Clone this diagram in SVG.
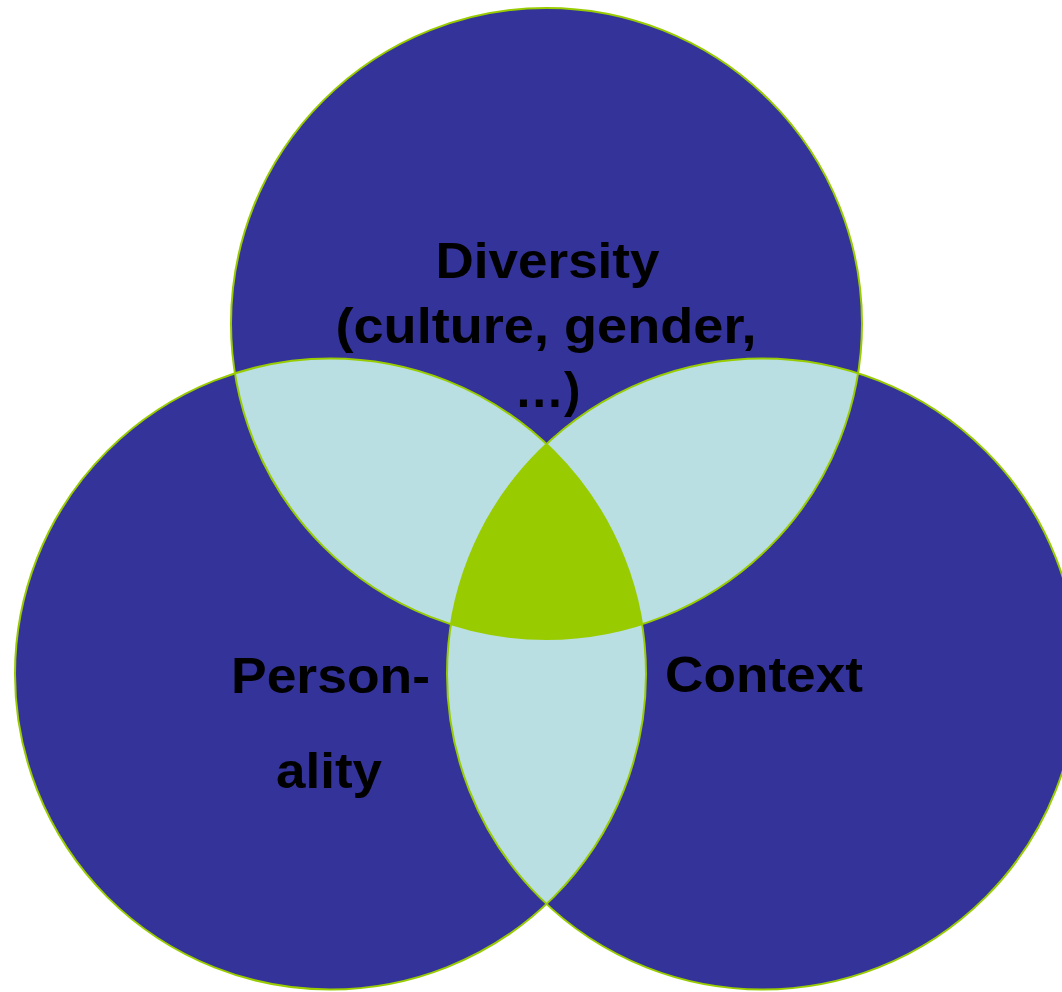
<svg xmlns="http://www.w3.org/2000/svg" width="1062" height="992" viewBox="0 0 1062 992">
  <style>
    .base { fill: #333399; stroke: none; }
    .pair { fill: #B9DFE3; stroke: none; }
    .core { fill: #99CC00; stroke: none; }
    .ring { fill: none; stroke: #99CC00; stroke-width: 2; }
    .label { font-family: "Liberation Sans", Arial, sans-serif; font-weight: bold; font-size: 50px; fill: #000000; text-anchor: middle; }
  </style>
  <defs>
    <clipPath id="clipTop"><circle cx="546.5" cy="323.5" r="315.5"/></clipPath>
    <clipPath id="clipLeft"><circle cx="330.5" cy="674" r="315.5"/></clipPath>
  </defs>
  <rect width="1062" height="992" fill="#FFFFFF"/>

  <!-- base discs -->
  <g id="fills">
    <circle class="base" cx="546.5" cy="323.5" r="315.5"/>
    <circle class="base" cx="330.5" cy="674" r="315.5"/>
    <circle class="base" cx="762.5" cy="674" r="315.5"/>
  </g>

  <!-- pairwise overlaps and the shared centre -->
  <g id="overlaps">
    <g clip-path="url(#clipTop)">
      <circle class="pair" cx="330.5" cy="674" r="315.5"/>
      <circle class="pair" cx="762.5" cy="674" r="315.5"/>
    </g>
    <g clip-path="url(#clipLeft)">
      <circle class="pair" cx="762.5" cy="674" r="315.5"/>
    </g>
    <g clip-path="url(#clipTop)">
      <g clip-path="url(#clipLeft)">
        <circle class="core" cx="762.5" cy="674" r="315.5"/>
      </g>
    </g>
  </g>

  <g id="node-diversity">
    <circle class="ring" cx="546.5" cy="323.5" r="315.5"/>
  </g>
  <g id="node-personality">
    <circle class="ring" cx="330.5" cy="674" r="315.5"/>
  </g>
  <g id="node-context">
    <circle class="ring" cx="762.5" cy="674" r="315.5"/>
  </g>

  <g id="labels">
    <g id="label-diversity">
      <text class="label" x="547.5" y="278" textLength="224" lengthAdjust="spacingAndGlyphs">Diversity</text>
      <text class="label" x="546" y="343" textLength="421" lengthAdjust="spacingAndGlyphs">(culture, gender,</text>
      <text class="label" x="547.5" y="407" textLength="66" lengthAdjust="spacingAndGlyphs">…)</text>
    </g>
    <g id="label-personality">
      <text class="label" x="330.5" y="693" textLength="199" lengthAdjust="spacingAndGlyphs">Person-</text>
      <text class="label" x="329" y="788" textLength="106" lengthAdjust="spacingAndGlyphs">ality</text>
    </g>
    <g id="label-context">
      <text class="label" x="764" y="692" textLength="198" lengthAdjust="spacingAndGlyphs">Context</text>
    </g>
  </g>
</svg>
